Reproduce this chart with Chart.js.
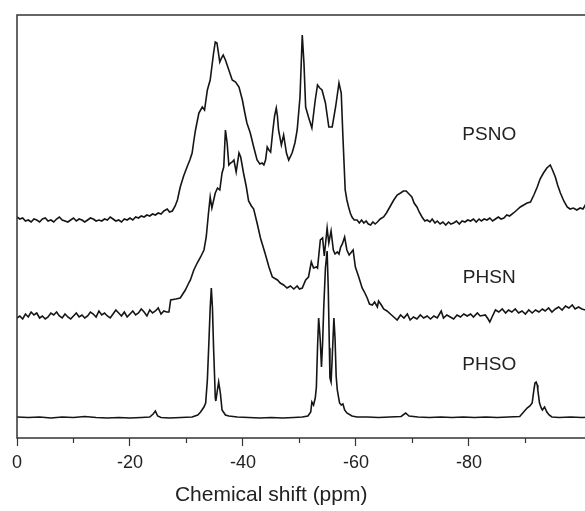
<!DOCTYPE html>
<html>
<head>
<meta charset="utf-8">
<script src="https://cdn.jsdelivr.net/npm/chart.js@4.4.1/dist/chart.umd.min.js"></script>
<style>
  html, body { margin: 0; padding: 0; background: #fff; overflow: hidden; }
  #wrap { width: 600px; height: 511px; }
</style>
</head>
<body>
<div id="wrap"><canvas id="grafico" width="600" height="511"></canvas></div>
<script>
// etiquetas
const nombresSeries = ["PSNO", "PHSN", "PHSO"];
const tituloEje = "Chemical shift (ppm)";
const ticksMayores = [0, -20, -40, -60, -80];
const ticksMenores = [-10, -30, -50, -70, -90];

// espectros: [ppm, intensidad]
const psno = [
  [0,221],[-0.5,219],[-1,220],[-1.5,217],[-2,218],[-2.5,216],[-3,219],[-3.5,218],[-4,216],[-4.5,219],
  [-5,220],[-5.5,217],[-6,218],[-6.5,216],[-7,219],[-7.5,221],[-8,218],[-8.5,217],[-9,216],[-9.5,218],
  [-10,220],[-10.5,217],[-11,219],[-11.5,218],[-12,216],[-12.5,218],[-13,220],[-13.5,219],[-14,217],[-14.5,218],
  [-15,217],[-15.5,219],[-16,218],[-16.5,221],[-17,219],[-17.5,217],[-18,218],[-18.5,216],[-19,219],[-19.5,218],
  [-20,220],[-20.5,218],[-21,221],[-21.5,220],[-22,222],[-22.5,221],[-23,223],[-23.5,222],[-24,224],[-24.5,223],
  [-25,225],[-25.5,224],[-26,227],[-26.6,229],[-27,226],[-27.5,227],[-28,232],[-28.4,238],[-28.9,251],[-29.5,262],
  [-30.1,271],[-30.6,278],[-31,285],[-31.3,297],[-31.6,308],[-32.2,325],[-32.8,331],[-33.2,328],[-33.7,348],[-34.2,358],
  [-34.8,385],[-35.1,396],[-35.4,395],[-35.9,376],[-36.2,380],[-36.5,383],[-36.9,378],[-37.5,368],[-38.1,358],[-38.7,356],
  [-39.3,351],[-39.9,338],[-40.3,326],[-40.7,315],[-41.3,305],[-41.9,291],[-42.5,278],[-43,274],[-43.4,275],[-43.7,273],
  [-44,278],[-44.3,291],[-44.6,288],[-44.9,286],[-45.3,308],[-45.6,322],[-45.9,330],[-46.1,322],[-46.3,308],[-46.8,293],
  [-47.2,303],[-47.7,285],[-48.1,278],[-48.7,285],[-49.2,295],[-49.6,308],[-50.1,341],[-50.5,403],[-50.8,375],[-51.1,331],
  [-51.6,321],[-52.2,310],[-52.8,338],[-53.2,353],[-53.6,350],[-54,348],[-54.6,335],[-55.2,311],[-55.8,311],[-56.4,331],
  [-57,355],[-57.4,345],[-57.7,301],[-58.1,248],[-58.4,238],[-58.7,231],[-59,225],[-59.3,221],[-59.7,218],[-60.2,218],
  [-60.6,215],[-61,218],[-61.4,215],[-61.8,217],[-62.2,214],[-62.6,213],[-63,216],[-63.4,214],[-63.8,216],[-64.3,219],
  [-64.9,221],[-65.4,225],[-65.8,229],[-66.3,234],[-66.7,238],[-67.3,243],[-67.9,245],[-68.4,247],[-68.9,247],[-69.4,244],
  [-69.9,241],[-70.3,235],[-70.8,231],[-71.2,226],[-71.7,221],[-72.2,217],[-72.6,218],[-73.1,216],[-73.5,219],[-74,215],
  [-74.4,217],[-74.9,214],[-75.4,216],[-75.9,213],[-76.4,216],[-76.8,214],[-77.3,215],[-77.8,217],[-78.3,214],[-78.8,217],
  [-79.3,216],[-79.8,218],[-80.3,217],[-80.8,219],[-81.3,216],[-81.8,219],[-82.2,217],[-82.7,219],[-83.2,218],[-83.7,220],
  [-84.2,217],[-84.7,219],[-85.2,221],[-85.7,219],[-86.2,220],[-86.7,223],[-87.2,222],[-87.9,225],[-88.5,228],[-89.1,231],
  [-89.7,233],[-90.3,235],[-90.9,236],[-91.5,243],[-92.1,251],[-92.6,259],[-93.2,265],[-93.8,270],[-94.4,273],[-94.8,268],
  [-95.3,261],[-95.7,253],[-96.2,245],[-96.8,237],[-97.4,231],[-97.9,229],[-98.5,230],[-99.1,228],[-99.7,230],[-100.2,229],
  [-100.6,233],[-101.2,231],[-101.8,232],[-102.5,230]
];

const phsn = [
  [0,120],[-0.5,122],[-1,119],[-1.5,124],[-2,121],[-2.5,126],[-3,123],[-3.5,125],[-4,120],[-4.5,122],
  [-5,119],[-5.5,121],[-6,125],[-6.5,123],[-7,126],[-7.5,122],[-8,120],[-8.5,124],[-9,121],[-9.5,119],
  [-10,122],[-10.5,125],[-11,121],[-11.5,123],[-12,120],[-12.5,122],[-13,126],[-13.5,124],[-14,121],[-14.5,127],
  [-15,123],[-15.5,125],[-16,122],[-16.5,120],[-17,124],[-17.5,128],[-18,125],[-18.5,122],[-19,126],[-19.5,121],
  [-20,124],[-20.5,127],[-21,123],[-21.5,125],[-22,129],[-22.5,126],[-23,122],[-23.5,128],[-24,125],[-24.5,127],
  [-25,130],[-25.5,124],[-26,127],[-26.5,126],[-26.9,126],[-27.2,138],[-28.1,139],[-28.9,140],[-29.8,148],[-30.4,155],
  [-30.7,158],[-31.3,168],[-31.9,175],[-32.5,181],[-33.1,188],[-33.5,201],[-33.9,225],[-34.2,241],[-34.5,230],[-34.9,240],
  [-35.1,245],[-35.5,250],[-35.9,248],[-36.3,265],[-36.6,271],[-36.9,308],[-37.2,295],[-37.5,273],[-37.8,275],[-38.1,276],
  [-38.4,278],[-38.8,266],[-39.3,285],[-39.6,281],[-40.1,265],[-40.6,251],[-41,237],[-41.5,232],[-41.9,229],[-42.5,215],
  [-43.1,200],[-43.9,185],[-44.6,171],[-45.2,161],[-46.1,158],[-46.6,155],[-47.2,153],[-47.8,150],[-48.4,152],[-49,149],
  [-49.6,152],[-50,149],[-50.5,150],[-51.1,158],[-51.6,161],[-52.1,176],[-52.5,170],[-53,171],[-53.2,170],[-53.7,198],
  [-54.1,200],[-54.4,182],[-54.9,210],[-55.2,195],[-55.6,207],[-56,188],[-56.3,184],[-56.7,186],[-57,184],[-57.3,191],
  [-57.6,194],[-58,201],[-58.4,188],[-58.8,183],[-59.5,188],[-59.9,171],[-60.5,161],[-61.1,150],[-61.5,146],[-62,140],
  [-62.4,134],[-62.9,133],[-63.3,136],[-63.8,131],[-64,137],[-64.5,133],[-64.9,129],[-65.5,127],[-66.1,124],[-66.7,121],
  [-67.3,118],[-67.9,123],[-68.5,120],[-69.1,124],[-69.6,118],[-70.2,121],[-70.8,119],[-71.4,123],[-72,120],[-72.6,122],
  [-73.2,119],[-73.8,122],[-74.4,120],[-75.1,127],[-75.5,120],[-76.1,123],[-76.7,121],[-77.3,119],[-77.9,123],[-78.5,121],
  [-79.1,124],[-79.7,122],[-80.3,124],[-80.8,121],[-81.5,125],[-82,122],[-82.9,123],[-83.4,119],[-83.7,116],[-84.1,121],
  [-84.7,128],[-85.3,126],[-85.9,129],[-86.5,125],[-87,128],[-87.6,126],[-88.2,129],[-88.8,125],[-89.4,127],[-90,124],
  [-90.6,128],[-91.2,125],[-91.8,128],[-92.4,126],[-93,129],[-93.5,127],[-94.1,130],[-94.7,126],[-95.3,129],[-95.9,131],
  [-96.5,128],[-97.1,132],[-97.7,130],[-98.3,133],[-98.8,129],[-99.4,131],[-100,129],[-100.6,128],[-101.5,130],[-102.5,128]
];

const phso = [
  [0,21],[-2,20.5],[-4,21],[-6,20],[-8,21],[-10,20.5],[-12,21.5],[-14,20.5],[-16,20],[-18,20.5],
  [-20,20],[-22,20.5],[-23.5,21],[-24.1,24],[-24.5,27],[-24.9,22],[-25.5,20.5],[-27,20],[-29,20.5],[-31,21],
  [-32,23],[-32.5,26],[-33.1,31],[-33.4,35],[-33.7,58],[-34,100],[-34.2,130],[-34.4,150],[-34.6,130],[-34.8,90],
  [-35,58],[-35.1,40],[-35.2,37],[-35.4,45],[-35.7,56],[-36,45],[-36.3,28],[-36.9,23],[-37.5,22],[-39,21],
  [-41,20.5],[-43,20],[-45,20.5],[-47,20],[-49,20.5],[-50.5,21],[-51.5,22],[-52,26],[-52.2,36],[-52.5,33],
  [-52.8,40],[-53,51],[-53.2,90],[-53.4,120],[-53.6,105],[-53.7,96],[-53.9,71],[-54.1,95],[-54.3,130],[-54.6,170],
  [-54.9,187],[-55.1,150],[-55.3,90],[-55.4,60],[-55.6,56],[-55.8,80],[-56.1,120],[-56.3,100],[-56.5,62],[-56.7,48],
  [-57.1,35],[-57.4,33],[-57.7,34],[-58,28],[-58.4,25],[-59.3,22],[-60.2,21],[-62,21],[-64,20.5],[-66,21],
  [-68,21.5],[-68.8,25],[-69.4,22],[-71,21],[-73,20.5],[-75,21],[-77,20.5],[-79,21],[-81,20.5],[-83,21],
  [-85,20.5],[-87,21],[-89,21.5],[-90.3,30],[-90.8,32],[-91.2,35],[-91.5,48],[-91.7,55],[-91.9,56],[-92.1,53],
  [-92.2,48],[-92.5,35],[-92.8,30],[-93,28],[-93.4,31],[-93.8,26],[-94.2,23],[-94.7,21],[-96,20.5],[-98,21],
  [-100,20.5],[-102.5,21]
];

// posiciones de las etiquetas (ppm, intensidad)
const etiquetaX = -83.6;
const etiquetaY = [303, 160, 73];
const tituloX = -45;

const fuente = '"Liberation Sans", Arial, Helvetica, sans-serif';
const aPuntos = arr => arr.map(p => ({ x: p[0], y: p[1] }));

const decoracion = {
  id: "decoracion",
  afterDraw(chart) {
    const { ctx, chartArea: a, scales: { x, y } } = chart;
    ctx.save();
    ctx.strokeStyle = "#333";
    ctx.lineWidth = 1.5;
    ctx.strokeRect(a.left, a.top, a.right - a.left, a.bottom - a.top);

    ctx.lineWidth = 1.2;
    ticksMenores.forEach(v => {
      const px = Math.round(x.getPixelForValue(v)) + 0.5;
      ctx.beginPath();
      ctx.moveTo(px, a.bottom);
      ctx.lineTo(px, a.bottom + 5);
      ctx.stroke();
    });

    ctx.fillStyle = "#222";
    ctx.textAlign = "center";
    ctx.textBaseline = "middle";
    ctx.font = "19px " + fuente;
    nombresSeries.forEach((n, i) => {
      ctx.fillText(n, x.getPixelForValue(etiquetaX), y.getPixelForValue(etiquetaY[i]));
    });
    ctx.font = "21px " + fuente;
    ctx.fillText(tituloEje, x.getPixelForValue(tituloX), 495);
    ctx.restore();
  }
};

const serie = (datos) => ({
  data: aPuntos(datos),
  borderColor: "#151515",
  borderWidth: 1.6,
  pointRadius: 0,
  fill: false,
  tension: 0
});

new Chart(document.getElementById("grafico"), {
  type: "line",
  data: {
    datasets: [serie(psno), serie(phsn), serie(phso)]
  },
  options: {
    responsive: false,
    animation: false,
    layout: { padding: { left: 17, top: 15, right: 4, bottom: 0 } },
    plugins: { legend: { display: false }, tooltip: { enabled: false } },
    scales: {
      x: {
        type: "linear",
        min: -102.5,
        max: 0,
        reverse: true,
        afterBuildTicks: scale => { scale.ticks = ticksMayores.map(v => ({ value: v })); },
        afterFit: scale => { scale.height = 73; },
        ticks: {
          color: "#222",
          padding: 6,
          maxRotation: 0,
          font: { size: 18, family: fuente },
          callback: v => String(v)
        },
        grid: {
          drawOnChartArea: false,
          drawTicks: true,
          tickLength: 8,
          tickColor: "#333",
          tickWidth: 1.2
        },
        border: { display: false },
        title: { display: false }
      },
      y: {
        display: false,
        min: 0,
        max: 423
      }
    }
  },
  plugins: [decoracion]
});
</script>
</body>
</html>
